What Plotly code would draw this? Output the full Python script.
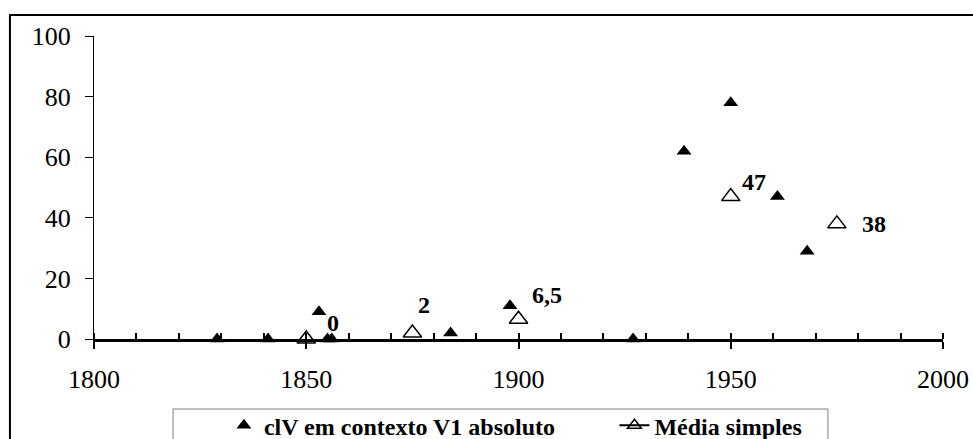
import plotly.graph_objects as go

# Data
clv_years = [1829, 1841, 1853, 1855, 1856, 1884, 1898, 1927, 1939, 1950, 1961, 1968]
clv_values = [0, 0, 9, 0, 0, 2, 11, 0, 62, 78, 47, 29]

media_years = [1850, 1875, 1900, 1950, 1975]
media_values = [0, 2, 6.5, 47, 38]
media_labels = ["0", "2", "6,5", "47", "38"]
label_shifts = [(27, 16), (12, 28), (28, 24), (23, 15), (37, 0)]

x_ticks = [1800, 1850, 1900, 1950, 2000]
y_ticks = [0, 20, 40, 60, 80, 100]

FONT = "'Liberation Serif', 'Times New Roman', Times, serif"

fig = go.Figure()

fig.add_trace(go.Scatter(
    x=clv_years, y=clv_values, mode="markers",
    name="<b>clV em contexto V1 absoluto</b>", legend="legend",
    marker=dict(symbol="triangle-up", size=13, color="black"),
    cliponaxis=False,
))
fig.add_trace(go.Scatter(
    x=media_years, y=media_values, mode="markers",
    name="Média simples", showlegend=False,
    marker=dict(symbol="triangle-up-open", size=16, color="black",
                line=dict(width=1.5, color="black")),
    cliponaxis=False,
))
# legend entry (line + marker) for Média simples
fig.add_trace(go.Scatter(
    x=[None], y=[None], mode="lines+markers", name="<b>Média simples</b>", legend="legend2",
    line=dict(color="black", width=2),
    marker=dict(symbol="triangle-up-open", size=12, color="black",
                line=dict(width=1.5, color="black")),
))
# invisible trace to activate xaxis2
fig.add_trace(go.Scatter(x=[None], y=[None], xaxis="x2", showlegend=False, hoverinfo="skip"))

for xv, yv, txt, (dx, dy) in zip(media_years, media_values, media_labels, label_shifts):
    fig.add_annotation(x=xv, y=yv, xref="x", yref="y", text="<b>%s</b>" % txt,
                       showarrow=False, xshift=dx, yshift=dy,
                       font=dict(family=FONT, size=24, color="black"))

legend_common = dict(orientation="h", xanchor="left", y=-0.212, yanchor="top",
                     bgcolor="rgba(0,0,0,0)", borderwidth=0,
                     font=dict(family=FONT, size=24, color="black"))

fig.update_layout(
    width=973, height=439,
    margin=dict(l=94, r=30, t=36, b=100, autoexpand=False),
    paper_bgcolor="white", plot_bgcolor="white",
    font=dict(family=FONT, color="black"),
    xaxis=dict(range=[1800, 2000], tickvals=x_ticks, showgrid=False, zeroline=False,
               showline=True, linecolor="black", linewidth=3,
               ticks="outside", ticklen=7, tickwidth=2, tickcolor="black",
               minor=dict(dtick=10, ticks="inside", ticklen=6, tickwidth=2, tickcolor="black"),
               tickfont=dict(family=FONT, size=26, color="black"),
               ticklabelstandoff=8),
    xaxis2=dict(range=[1800, 2000], tickvals=x_ticks, overlaying="x", anchor="y", side="bottom",
                showgrid=False, zeroline=False, showline=False, showticklabels=False,
                ticks="inside", ticklen=6, tickwidth=2, tickcolor="black"),
    yaxis=dict(range=[0, 100], tickvals=y_ticks, showgrid=False, zeroline=False,
               showline=True, linecolor="black", linewidth=1,
               ticks="outside", ticklen=8, tickwidth=1, tickcolor="black",
               tickfont=dict(family=FONT, size=26, color="black"),
               ticklabelstandoff=9),
    showlegend=True,
    legend=dict(x=0.153, **legend_common),
    legend2=dict(x=0.613, **legend_common),
    shapes=[
        dict(type="line", xref="paper", yref="paper", x0=-0.099, x1=-0.099, y0=1.069, y1=-0.5,
             line=dict(color="black", width=2)),
        dict(type="line", xref="paper", yref="paper", x0=-0.1, x1=1.1, y0=1.069, y1=1.069,
             line=dict(color="black", width=2)),
        dict(type="rect", xref="paper", yref="paper", x0=0.0931, x1=0.8645, y0=-0.231, y1=-0.5,
             line=dict(color="#808080", width=1), fillcolor="rgba(0,0,0,0)"),
    ],
)

fig.write_html("out.html", config={"displayModeBar": False},
               post_script="document.body.style.margin='0';document.body.style.overflow='hidden';")
